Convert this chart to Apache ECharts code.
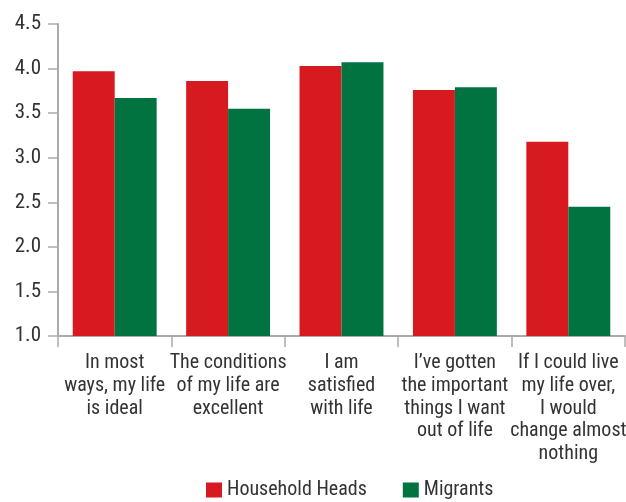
<!DOCTYPE html>
<html>
<head>
<meta charset="utf-8">
<script src="https://cdn.jsdelivr.net/npm/echarts@6/dist/echarts.min.js"></script>
<style>
  html, body { margin: 0; padding: 0; background: #fff; }
  #chart { width: 626px; height: 502px; }
</style>
</head>
<body>
<div id="chart"></div>
<script>
// Life satisfaction items (mean scores)
const categories = [
  "In most\nways, my life\nis ideal",
  "The conditions\nof my life are\nexcellent",
  "I am\nsatisfied\nwith life",
  "I\u2019ve gotten\nthe important\nthings I want\nout of life",
  "If I could live\nmy life over,\nI would\nchange almost\nnothing"
];
const householdHeads = [3.97, 3.86, 4.03, 3.76, 3.18];
const migrants = [3.67, 3.55, 4.07, 3.79, 2.45];
const yTicks = { min: 1.0, max: 4.5, step: 0.5 };

const FONT = '"Roboto Condensed", "Liberation Sans Narrow", "Liberation Sans", sans-serif';
const chart = echarts.init(document.getElementById('chart'));
chart.setOption({
  animation: false,
  grid: { left: 58, right: 1, top: 24, bottom: 166, containLabel: false, outerBoundsMode: 'none' },
  legend: {
    top: 479,
    left: 206,
    padding: 0,
    itemWidth: 16,
    itemHeight: 15,
    itemGap: 36,
    icon: 'rect',
    textStyle: { fontFamily: FONT, fontSize: 20, lineHeight: 22, color: '#333' },
    data: ['Household Heads', 'Migrants']
  },
  xAxis: {
    type: 'category',
    data: categories,
    axisLine: { lineStyle: { color: '#aaa', width: 2 } },
    axisTick: { show: true, length: 11, lineStyle: { color: '#aaa', width: 1.5 } },
    axisLabel: {
      interval: 0,
      margin: 16,
      fontFamily: FONT,
      fontSize: 20,
      lineHeight: 22.6,
      color: '#333'
    }
  },
  yAxis: {
    type: 'value',
    min: yTicks.min,
    max: yTicks.max,
    interval: yTicks.step,
    splitLine: { show: false },
    axisLine: { show: true, lineStyle: { color: '#aaa', width: 2 } },
    axisTick: { show: true, length: 10, lineStyle: { color: '#aaa', width: 1.5 } },
    axisLabel: {
      margin: 17,
      fontFamily: FONT,
      fontSize: 21,
      color: '#333',
      formatter: v => v.toFixed(1)
    }
  },
  series: [
    {
      name: 'Household Heads',
      type: 'bar',
      data: householdHeads,
      itemStyle: { color: '#D71920' },
      barGap: '0%',
      barCategoryGap: '26%'
    },
    {
      name: 'Migrants',
      type: 'bar',
      data: migrants,
      itemStyle: { color: '#007340' }
    }
  ]
});
</script>
</body>
</html>
